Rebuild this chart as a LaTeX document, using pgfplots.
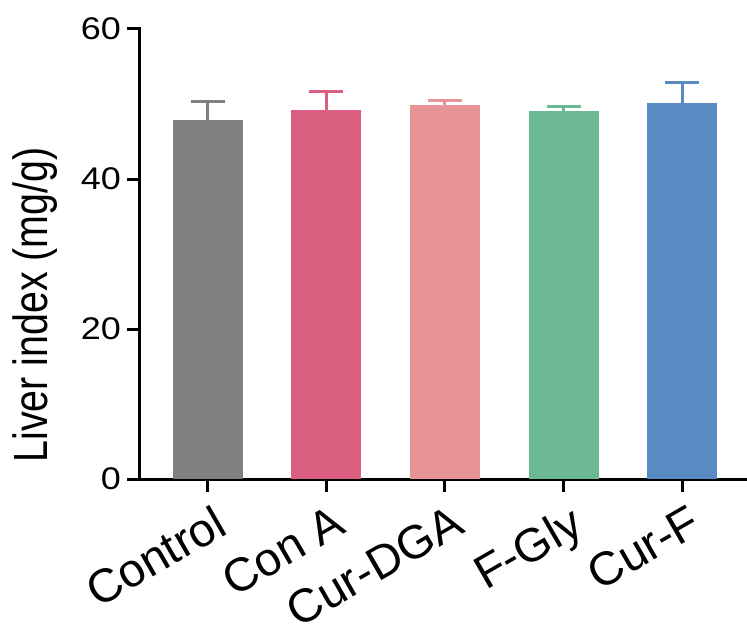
\documentclass[border=0pt]{standalone}
\usepackage{pgfplots}
\pgfplotsset{compat=1.18}
\usepackage{fontspec}
\setmainfont{Liberation Sans}
\definecolor{cgray}{HTML}{808080}
\definecolor{cconA}{HTML}{DA5F81}
\definecolor{cdga}{HTML}{E79496}
\definecolor{cgly}{HTML}{6CB893}
\definecolor{ccurf}{HTML}{588BC2}
\begin{document}
\begin{tikzpicture}
\begin{axis}[
  at={(0pt,0pt)}, anchor=south west,
  scale only axis,
  width=607pt, height=450pt,
  xmin=-0.569, xmax=4.545,
  ymin=0, ymax=60,
  axis x line*=bottom, axis y line*=left,
  axis line style={line width=3pt, line cap=rect},
  every tick/.style={line width=3pt, black},
  tick align=outside,
  major tick length=13pt,
  ytick={0,20,40,60},
  xtick={0,1,2,3,4},
  xticklabels={Control,Con A,Cur-DGA,F-Gly,Cur-F},
  /pgf/number format/assume math mode=true,
  yticklabel style={font=\fontsize{36}{42}\selectfont, inner sep=0pt, xshift=-6pt, yscale=0.87},
  xticklabel style={font=\fontsize{47}{54}\selectfont, inner sep=0pt, xshift=5pt, yshift=-11pt, rotate=30, anchor=north east},
  ylabel={\scalebox{0.82}[1]{Liver index (mg/g)}},
  ylabel style={font=\fontsize{48}{56}\selectfont, at={(axis description cs:-0.173,0.387)}, anchor=center},
  ybar, bar width=0.59, bar shift=0pt,
  clip=false,
  error bars/y dir=plus, error bars/y explicit,
]
\addplot[fill=cgray, draw=none, error bars/error bar style={line width=3pt, cgray}, error bars/error mark options={rotate=90, mark size=17pt, line width=3pt, cgray}]
  coordinates {(0,47.9) +- (0,2.4)};
\addplot[fill=cconA, draw=none, error bars/error bar style={line width=3pt, cconA}, error bars/error mark options={rotate=90, mark size=17pt, line width=3pt, cconA}]
  coordinates {(1,49.2) +- (0,2.4)};
\addplot[fill=cdga, draw=none, error bars/error bar style={line width=3pt, cdga}, error bars/error mark options={rotate=90, mark size=17pt, line width=3pt, cdga}]
  coordinates {(2,49.9) +- (0,0.5)};
\addplot[fill=cgly, draw=none, error bars/error bar style={line width=3pt, cgly}, error bars/error mark options={rotate=90, mark size=17pt, line width=3pt, cgly}]
  coordinates {(3,49.1) +- (0,0.5)};
\addplot[fill=ccurf, draw=none, error bars/error bar style={line width=3pt, ccurf}, error bars/error mark options={rotate=90, mark size=17pt, line width=3pt, ccurf}]
  coordinates {(4,50.1) +- (0,2.8)};
\end{axis}
\pgfresetboundingbox
\path[use as bounding box] (-140pt,-156pt) rectangle (607pt,479pt);
\end{tikzpicture}
\end{document}
